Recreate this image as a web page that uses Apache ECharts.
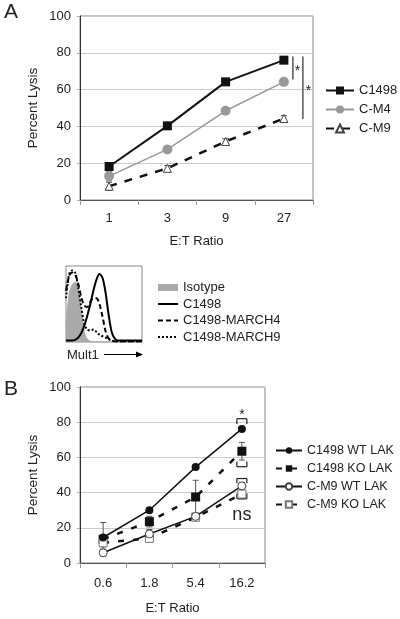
<!DOCTYPE html>
<html><head><meta charset="utf-8">
<script src="https://cdn.jsdelivr.net/npm/echarts@6/dist/echarts.min.js"></script>
<style>html,body{margin:0;padding:0;background:#fff}#c{width:400px;height:619px}</style>
</head><body><div id="c"></div>
<script>
const FONT = '"Liberation Sans", Arial, sans-serif';

// ---- Panel A data ----
const catsA = ['1', '3', '9', '27'];
const c1498A = [18.2, 40.3, 64.2, 76.0];
const cm4A = [13.0, 27.5, 48.5, 64.2];
const cm9A = [7.5, 17.2, 31.8, 44.3];
const errC1498A = [1.5, 1.2, 0.8, 1.0];
const errCM4A = [2.5, 1.0, 1.0, 1.5];
const errCM9A = [2.2, 1.5, 1.5, 1.5];

// ---- Histogram (Mult1) data, normalised ----
const histX = [0,4,8,12,16,20,24,28,32,36,40,44,48,52,56,60,64,68,72,76,80,84,88,92,96,100];
const histIsotype = [20,65,78,82,72,45,14,4,1,0,0,0,0,0,0,0,0,0,0,0,0,0,0,0,0,0];
const histC1498 = [2,2,2,3,6,12,22,36,52,70,85,93,88,68,38,14,5,2,2,2,2,2,2,2,2,2];
const histMARCH4 = [70,90,95,92,80,62,50,48,55,60,60,52,35,15,5,2,1,1,1,1,1,1,1,1,1,1];
const histMARCH9 = [60,92,98,95,75,48,25,17,16,17,14,10,8,6,4,2,1,1,1,1,1,1,1,1,1,1];

// ---- Panel B data ----
const catsB = ['0.6', '1.8', '5.4', '16.2'];
const wtC1498B = [14.5, 30.0, 54.5, 76.2];
const koC1498B = [13.5, 23.5, 37.5, 63.5];
const wtCM9B = [5.8, 16.5, 26.5, 43.8];
const koCM9B = [11.5, 14.0, 26.0, 39.2];
const errWtC1498B = [1.0, 1.0, 1.0, 1.0];
const errKoC1498B = [9.5, 3.0, 9.5, 5.0];
const errWtCM9B = [1.5, 2.5, 2.0, 2.0];
const errKoCM9B = [3.0, 2.0, 1.5, 3.0];

// annotation values
const sigA = [[78, 65.5], [78, 44]];
const sigB = { star: 85.5, b1: [82, 79], b2: [54.7, 57.6], b3: [48, 45.3], b4: [36.5, 39.5], ns: 27 };

const chart = echarts.init(document.getElementById('c'), null, { renderer: 'canvas' });

function errSeries(xi, vals, errs, color) {
  return {
    type: 'custom', xAxisIndex: xi, yAxisIndex: xi, silent: true, z: 1,
    data: vals.map((v, i) => [i, v, errs[i]]),
    renderItem: (params, api) => {
      const x = api.value(0), v = api.value(1), e = api.value(2);
      const top = api.coord([x, v + e]), bot = api.coord([x, v - e]);
      const w = 3;
      const st = { stroke: color, lineWidth: 1 };
      return { type: 'group', children: [
        { type: 'line', shape: { x1: top[0], y1: top[1], x2: bot[0], y2: bot[1] }, style: st },
        { type: 'line', shape: { x1: top[0] - w, y1: top[1], x2: top[0] + w, y2: top[1] }, style: st },
        { type: 'line', shape: { x1: bot[0] - w, y1: bot[1], x2: bot[0] + w, y2: bot[1] }, style: st }
      ] };
    }
  };
}

function catAxis(gi, data, margin, nameGap) {
  return {
    gridIndex: gi, type: 'category', data: data, boundaryGap: true,
    axisLine: { lineStyle: { color: '#555', width: 1 } },
    axisTick: { show: true, length: 5, lineStyle: { color: '#999' } },
    axisLabel: { fontSize: 13, margin: margin, color: '#222', fontFamily: FONT },
    name: 'E:T Ratio', nameLocation: 'middle', nameGap: nameGap,
    nameTextStyle: { fontSize: 13, color: '#222', fontFamily: FONT }
  };
}
function valAxis(gi) {
  return {
    gridIndex: gi, type: 'value', min: 0, max: 100, interval: 20,
    axisLine: { show: true, lineStyle: { color: '#333', width: 1 } },
    axisTick: { show: true, length: 3, lineStyle: { color: '#aaa' } },
    axisLabel: { fontSize: 13, margin: 9, color: '#222', fontFamily: FONT },
    splitLine: { lineStyle: { color: '#ccc' } },
    name: 'Percent Lysis', nameLocation: 'middle', nameGap: 40, nameMoveOverlap: false,
    nameTextStyle: { fontSize: 13.5, color: '#222', fontFamily: FONT }
  };
}
const noSym = { opacity: 0 };

const option = {
  animation: false,
  textStyle: { fontFamily: FONT },
  grid: [
    { left: 80, top: 16, width: 233, height: 184, show: true, borderColor: '#888', borderWidth: 1 },
    { left: 66, top: 266, width: 76, height: 76, show: true, borderColor: '#888', borderWidth: 1 },
    { left: 80, top: 387, width: 185, height: 176, show: true, borderColor: '#888', borderWidth: 1 }
  ],
  xAxis: [
    catAxis(0, catsA, 12, 35),
    { gridIndex: 1, type: 'value', min: 0, max: 100, show: false },
    catAxis(2, catsB, 14, 39)
  ],
  yAxis: [
    valAxis(0),
    { gridIndex: 1, type: 'value', min: 0, max: 104, show: false },
    valAxis(2)
  ],
  legend: [
    {
      left: 325, top: 84, orient: 'vertical', padding: 0, itemWidth: 28, itemHeight: 10, itemGap: 6,
      textStyle: { fontSize: 13, color: '#222', fontFamily: FONT },
      data: ['C1498', 'C-M4', 'C-M9']
    },
    {
      left: 157, top: 281, orient: 'vertical', padding: 0, itemWidth: 20, itemHeight: 7, itemGap: 3.5,
      textStyle: { fontSize: 13, color: '#222', fontFamily: FONT },
      data: [{ name: 'Isotype', icon: 'rect' },
        { name: 'C1498 ', itemStyle: noSym },
        { name: 'C1498-MARCH4', itemStyle: noSym },
        { name: 'C1498-MARCH9', itemStyle: noSym }]
    },
    {
      left: 275, top: 444, orient: 'vertical', padding: 0, itemWidth: 26, itemHeight: 8, itemGap: 5,
      textStyle: { fontSize: 12.5, color: '#222', fontFamily: FONT },
      data: ['C1498 WT LAK', 'C1498 KO LAK', 'C-M9 WT LAK', 'C-M9 KO LAK']
    }
  ],
  series: [
    // Panel A
    errSeries(0, c1498A, errC1498A, '#333'),
    errSeries(0, cm4A, errCM4A, '#888'),
    errSeries(0, cm9A, errCM9A, '#333'),
    { name: 'C1498', type: 'line', xAxisIndex: 0, yAxisIndex: 0, data: c1498A, z: 5,
      symbol: 'rect', symbolSize: 9, itemStyle: { color: '#111' }, lineStyle: { color: '#111', width: 2 } },
    { name: 'C-M4', type: 'line', xAxisIndex: 0, yAxisIndex: 0, data: cm4A, z: 4,
      symbol: 'circle', symbolSize: 10, itemStyle: { color: '#999' }, lineStyle: { color: '#999', width: 1.5 } },
    { name: 'C-M9', type: 'line', xAxisIndex: 0, yAxisIndex: 0, data: cm9A, z: 4,
      symbol: 'triangle', symbolSize: 8, itemStyle: { color: '#fff', borderColor: '#444', borderWidth: 1 },
      lineStyle: { color: '#111', width: 2.5, type: [8, 8] } },
    // Histogram
    { name: 'Isotype', type: 'line', xAxisIndex: 1, yAxisIndex: 1, data: histX.map((x, i) => [x, histIsotype[i]]),
      smooth: 0.3, symbol: 'none', itemStyle: { color: '#aaa' }, lineStyle: { color: '#aaa', width: 1 },
      areaStyle: { color: '#aaa', opacity: 1 }, z: 2 },
    { name: 'C1498 ', type: 'line', xAxisIndex: 1, yAxisIndex: 1, data: histX.map((x, i) => [x, histC1498[i]]),
      smooth: 0.3, symbol: 'none', itemStyle: { color: '#000' }, lineStyle: { color: '#000', width: 2 }, z: 5 },
    { name: 'C1498-MARCH4', type: 'line', xAxisIndex: 1, yAxisIndex: 1, data: histX.map((x, i) => [x, histMARCH4[i]]),
      smooth: 0.3, symbol: 'none', itemStyle: { color: '#000' }, lineStyle: { color: '#000', width: 2, type: [5, 3] }, z: 4 },
    { name: 'C1498-MARCH9', type: 'line', xAxisIndex: 1, yAxisIndex: 1, data: histX.map((x, i) => [x, histMARCH9[i]]),
      smooth: 0.3, symbol: 'none', itemStyle: { color: '#000' }, lineStyle: { color: '#000', width: 2, type: [2, 2] }, z: 4 },
    // Panel B
    errSeries(2, wtC1498B, errWtC1498B, '#333'),
    errSeries(2, koC1498B, errKoC1498B, '#555'),
    errSeries(2, wtCM9B, errWtCM9B, '#555'),
    errSeries(2, koCM9B, errKoCM9B, '#777'),
    { name: 'C1498 WT LAK', type: 'line', xAxisIndex: 2, yAxisIndex: 2, data: wtC1498B, z: 5,
      symbol: 'circle', symbolSize: 8, itemStyle: { color: '#111' }, lineStyle: { color: '#111', width: 1.5 } },
    { name: 'C1498 KO LAK', type: 'line', xAxisIndex: 2, yAxisIndex: 2, data: koC1498B, z: 4,
      symbol: 'rect', symbolSize: 9, itemStyle: { color: '#111' }, lineStyle: { color: '#111', width: 2.5, type: [6, 9] } },
    { name: 'C-M9 WT LAK', type: 'line', xAxisIndex: 2, yAxisIndex: 2, data: wtCM9B, z: 5,
      symbol: 'circle', symbolSize: 8, itemStyle: { color: '#fff', borderColor: '#444', borderWidth: 1 },
      lineStyle: { color: '#111', width: 1.5 } },
    { name: 'C-M9 KO LAK', type: 'line', xAxisIndex: 2, yAxisIndex: 2, data: koCM9B, z: 4,
      symbol: 'rect', symbolSize: 8, itemStyle: { color: '#fff', borderColor: '#777', borderWidth: 1 },
      lineStyle: { color: '#111', width: 2.5, type: [6, 9] } }
  ]
};
chart.setOption(option);

// ---- annotations (brackets, stars, labels) ----
const g = [];
const txt = (x, y, s, size, extra) => g.push(Object.assign({ type: 'text', x: x, y: y,
  style: Object.assign({ text: s, font: size + 'px ' + FONT, fill: '#222', align: 'center', verticalAlign: 'middle' }, extra || {}) }));
const ln = (x1, y1, x2, y2, c, w) => g.push({ type: 'line', shape: { x1, y1, x2, y2 }, style: { stroke: c, lineWidth: w } });

txt(11, 12, 'A', 21);
txt(11, 389, 'B', 21);

// panel A significance
const pA = (v) => chart.convertToPixel({ xAxisIndex: 0, yAxisIndex: 0 }, ['27', v]);
const a1t = pA(sigA[0][0]), a1b = pA(sigA[0][1]);
const a2t = pA(sigA[1][0]), a2b = pA(sigA[1][1]);
ln(a1t[0] + 9, a1t[1], a1b[0] + 9, a1b[1], '#555', 1.5);
ln(a2t[0] + 19, a2t[1], a2b[0] + 19, a2b[1], '#555', 1.5);
txt(a1t[0] + 13.5, (a1t[1] + a1b[1]) / 2 + 3, '*', 14);
txt(a2t[0] + 24.5, (a2t[1] + a2b[1]) / 2 + 3, '*', 14);

// panel B brackets
const pB = (v) => chart.convertToPixel({ xAxisIndex: 2, yAxisIndex: 2 }, ['16.2', v]);
function bracket(pair) {
  const h = pB(pair[0]), e = pB(pair[1]);
  const x = h[0];
  ln(x - 5, h[1], x + 5, h[1], '#222', 1.2);
  ln(x - 5, h[1], x - 5, e[1], '#222', 1.2);
  ln(x + 5, h[1], x + 5, e[1], '#222', 1.2);
}
bracket(sigB.b1); bracket(sigB.b2); bracket(sigB.b3); bracket(sigB.b4);
const sp = pB(sigB.star); txt(sp[0], sp[1] + 3, '*', 14);
const np = pB(sigB.ns); txt(np[0], np[1], 'ns', 18);

// Mult1 label and arrow
txt(67, 355, 'Mult1', 13, { align: 'left' });
ln(104, 354.5, 137, 354.5, '#000', 1.2);
g.push({ type: 'polygon', shape: { points: [[136, 351.5], [143, 354.5], [136, 357.5]] }, style: { fill: '#000' } });

chart.setOption({ graphic: g });
</script>
</body></html>
